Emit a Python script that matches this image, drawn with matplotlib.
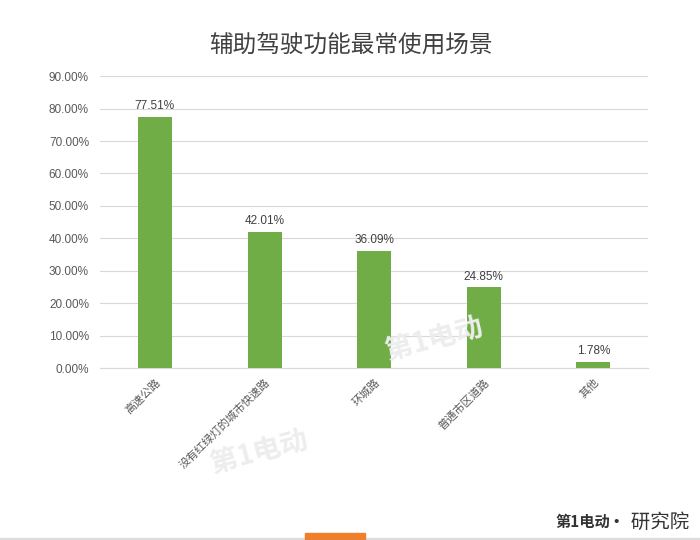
import matplotlib
matplotlib.use("Agg")
import matplotlib.pyplot as plt
from matplotlib.patches import Rectangle

plt.rcParams['font.family'] = ['Liberation Sans', 'Noto Sans CJK SC', 'DejaVu Sans']

title = "辅助驾驶功能最常使用场景"
categories = ["高速公路", "没有红绿灯的城市快速路", "环城路", "普通市区道路", "其他"]
values = [77.51, 42.01, 36.09, 24.85, 1.78]
yticks = [0, 10, 20, 30, 40, 50, 60, 70, 80, 90]

fig = plt.figure(figsize=(7, 5.4), dpi=100)
ax = fig.add_axes([0.143, 0.3185, 0.783, 0.5405])

x = list(range(len(categories)))
ax.bar(x, values, width=0.31, color="#70AD47", zorder=3)
for xi, v in zip(x, values):
    ax.text(xi, v + 1.5, f"{v:.2f}%", ha="center", va="bottom", fontsize=8.5, color="#404040")

ax.set_xlim(-0.5, len(categories) - 0.5)
ax.set_ylim(0, 90)
ax.set_yticks(yticks)
ax.set_yticklabels([f"{t:.2f}%" for t in yticks], fontsize=8.5, color="#595959")
ax.set_xticks(x)
ax.set_xticklabels(categories, rotation=45, ha="right", rotation_mode="anchor",
                   fontsize=8, color="#595959", family=['Noto Sans CJK SC', 'DejaVu Sans'])
ax.tick_params(axis="both", length=0, pad=8)
ax.tick_params(axis="x", pad=6)
ax.grid(axis="y", color="#D9D9D9", linewidth=0.8, zorder=0)
for s in ["top", "right", "left"]:
    ax.spines[s].set_visible(False)
ax.spines["bottom"].set_color("#D9D9D9")
ax.spines["bottom"].set_linewidth(0.8)

fig.text(0.501, 0.915, title, ha="center", va="center", fontsize=17, color="#404040",
         family=['Noto Sans CJK SC', 'DejaVu Sans'], fontweight="medium")

# watermarks
fig.text(0.62, 0.37, "第1电动", ha="center", va="center", fontsize=20, color="#EDEDED",
         rotation=15, fontweight="bold", zorder=0, family=['Noto Sans CJK SC'])
fig.text(0.37, 0.16, "第1电动", ha="center", va="center", fontsize=20, color="#EDEDED",
         rotation=15, fontweight="bold", zorder=0, family=['Noto Sans CJK SC'])

# footer
fig.text(0.872, 0.033, "第1电动", ha="right", va="center", fontsize=11, color="#333333",
         fontweight="bold", style="italic", family=['Noto Sans CJK SC'])
fig.text(0.985, 0.033, "· 研究院", ha="right", va="center", fontsize=14, color="#333333",
         family=['Noto Sans CJK SC'])
fig.patches.append(Rectangle((0.436, 0.0), 0.086, 0.013, transform=fig.transFigure,
                             color="#F07F2C", zorder=5))
fig.patches.append(Rectangle((0.0, 0.0), 1.0, 0.003, transform=fig.transFigure,
                             color="#DDDDDD", zorder=4))

fig.savefig("out.png", dpi=100)
